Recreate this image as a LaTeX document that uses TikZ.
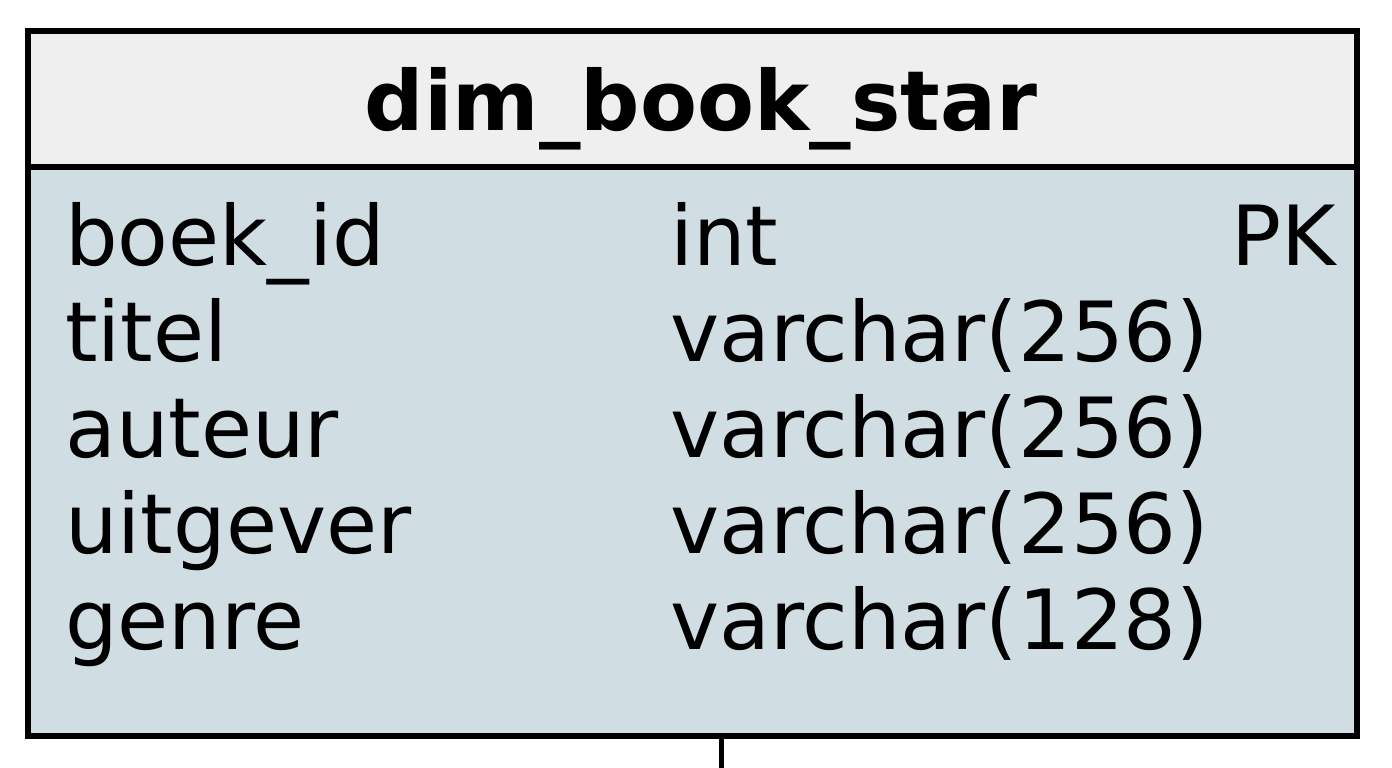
\documentclass[tikz,border=0pt]{standalone}
\usepackage{fontspec}
\setmainfont{DejaVu Sans}
\usepackage{tikz}
\usetikzlibrary{positioning}

\definecolor{headgray}{RGB}{239,239,239}
\definecolor{bodyblue}{RGB}{208,222,227}

\begin{document}
\begin{tikzpicture}[x=1pt,y=1pt]
			\tikzstyle{Table}	= [rectangle, draw, line width=6pt, minimum width=1329pt, inner sep=0pt]
			\tikzstyle{Head}	= [Table, fill=headgray, minimum height=136pt]
			\tikzstyle{Body}	= [Table, fill=bodyblue, minimum height=569pt]
			\tikzstyle{Title}	= [anchor=base, inner sep=0pt, font=\fontsize{83}{96}\selectfont\bfseries]
			\tikzstyle{Field}	= [anchor=base west, inner sep=0pt, font=\fontsize{83}{96}\selectfont]
			\tikzstyle{Key}		= [anchor=base east, inner sep=0pt, font=\fontsize{83}{96}\selectfont]
			\tikzstyle{Link}	= [line width=5pt]
			
			\useasboundingbox (0,0) rectangle (1392,-768);
			
			\node (head) at (692.5,-99) [Head] {};
			\node (body) at (692.5,-451.5) [Body] {};
			\node (title) at (701,-130) [Title] {dim\_book\_star};
			
			\node (n1) at (65,-265) [Field] {boek\_id};
			\node (n2) at (65,-361) [Field] {titel};
			\node (n3) at (65,-457) [Field] {auteur};
			\node (n4) at (65,-553) [Field] {uitgever};
			\node (n5) at (65,-649) [Field] {genre};
			
			\node (t1) at (670,-265) [Field] {int};
			\node (t2) at (670,-361) [Field] {varchar(256)};
			\node (t3) at (670,-457) [Field] {varchar(256)};
			\node (t4) at (670,-553) [Field] {varchar(256)};
			\node (t5) at (670,-649) [Field] {varchar(128)};
			
			\node (k1) at (1336,-265) [Key] {PK};
			
			\coordinate (c0) at (721,-739);
			\coordinate (c1) at (721,-768);
			\draw (c0) -- (c1) [Link];
\end{tikzpicture}
\end{document}
